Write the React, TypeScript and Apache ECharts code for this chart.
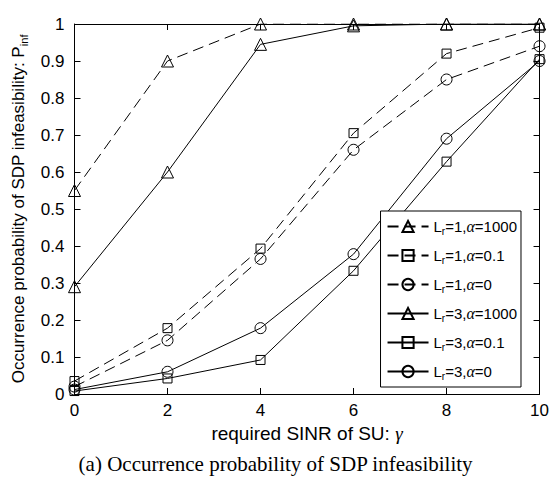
import React, { useEffect, useRef } from "react";
import * as echarts from "echarts";

const xValues = [0, 2, 4, 6, 8, 10];
const seriesNames = [
  "L_r=1,α=1000",
  "L_r=1,α=0.1",
  "L_r=1,α=0",
  "L_r=3,α=1000",
  "L_r=3,α=0.1",
  "L_r=3,α=0",
];
const lr1a1000 = [0.55, 0.9, 1.0, 1.0, 1.0, 1.0];
const lr1a01 = [0.035, 0.178, 0.393, 0.705, 0.92, 0.99];
const lr1a0 = [0.02, 0.145, 0.365, 0.66, 0.85, 0.94];
const lr3a1000 = [0.29, 0.6, 0.945, 0.995, 1.0, 1.0];
const lr3a01 = [0.008, 0.042, 0.092, 0.333, 0.628, 0.905];
const lr3a0 = [0.012, 0.06, 0.178, 0.378, 0.69, 0.9];
const seriesValues = [lr1a1000, lr1a01, lr1a0, lr3a1000, lr3a01, lr3a0];
const seriesSymbols = ["triangle", "rect", "circle", "triangle", "rect", "circle"];
const seriesDashed = [true, true, true, false, false, false];

const FONT = "Liberation Sans";
const SERIF = "Liberation Serif";

export default function App() {
  const ref = useRef<HTMLDivElement>(null);
  useEffect(() => {
    if (!ref.current) return;
    const chart = echarts.init(ref.current, undefined, { renderer: "svg" });
    const series = seriesNames.map((name, i) => ({
      name,
      type: "line",
      data: xValues.map((x, j) => [x, seriesValues[i][j]]),
      symbol: seriesSymbols[i],
      symbolSize: seriesSymbols[i] === "rect" ? 9 : seriesSymbols[i] === "triangle" ? 12 : 11,
      showSymbol: true,
      itemStyle: { color: "transparent", borderColor: "#000", borderWidth: 1 },
      lineStyle: { color: "#000", width: 1, type: seriesDashed[i] ? [11, 6] : "solid" },
      emphasis: { disabled: true },
      z: 3,
    }));
    const tickStyle = { inside: true, length: 6, lineStyle: { color: "#000", width: 1 } };
    chart.setOption({
      animation: false,
      backgroundColor: "#fff",
      grid: { left: 73, right: 9, top: 24, bottom: 86, show: false },
      legend: {
        orient: "vertical",
        right: 31,
        bottom: 93,
        backgroundColor: "#fff",
        borderColor: "#000",
        borderWidth: 1,
        borderRadius: 0,
        padding: [6, 4, 6, 6],
        itemWidth: 41,
        itemHeight: 14,
        itemGap: 10,
        data: seriesNames,
        formatter: (name: string) => {
          const rest = name.slice(3);
          const parts = rest.split("α");
          return "{n|L}{s|r}{n|" + parts[0] + "}{a|α}{n|" + parts[1] + "}";
        },
        textStyle: {
          color: "#000",
          fontFamily: FONT,
          fontSize: 15,
          rich: {
            n: { fontSize: 15, fontFamily: FONT, color: "#000", lineHeight: 18 },
            a: { fontSize: 16, fontFamily: SERIF, fontStyle: "italic", color: "#000", lineHeight: 18 },
            s: { fontSize: 10, fontFamily: FONT, color: "#000", lineHeight: 18, padding: [9, 0, 0, 0] },
          },
        },
      },
      xAxis: [
        {
          type: "value",
          min: 0,
          max: 10,
          interval: 2,
          name: "{n|required SINR of SU: }{g|γ}",
          nameLocation: "middle",
          nameGap: 28,
          nameTextStyle: {
            fontFamily: FONT,
            fontSize: 19,
            color: "#000",
            rich: {
              n: { fontFamily: FONT, fontSize: 19, color: "#000" },
              g: { fontFamily: SERIF, fontSize: 19, fontStyle: "italic", color: "#000" },
            },
          },
          axisLine: { show: true, lineStyle: { color: "#000", width: 1 } },
          axisTick: tickStyle,
          axisLabel: { fontFamily: FONT, fontSize: 17, color: "#000", margin: 8 },
          splitLine: { show: false },
        },
        {
          type: "value",
          position: "top",
          min: 0,
          max: 10,
          interval: 2,
          axisLine: { show: true, onZero: false, lineStyle: { color: "#000", width: 1 } },
          axisTick: tickStyle,
          axisLabel: { show: false },
          splitLine: { show: false },
        },
      ],
      yAxis: [
        {
          type: "value",
          min: 0,
          max: 1,
          interval: 0.1,
          name: "{n|Occurrence probability of SDP infeasibility: P}{s|inf}",
          nameLocation: "middle",
          nameGap: 46,
          nameTextStyle: {
            fontFamily: FONT,
            fontSize: 17,
            color: "#000",
            rich: {
              n: { fontSize: 17, fontFamily: FONT, color: "#000", lineHeight: 20 },
              s: { fontSize: 11, fontFamily: FONT, color: "#000", lineHeight: 20, padding: [10, 0, 0, 0] },
            },
          },
          axisLine: { show: true, lineStyle: { color: "#000", width: 1 } },
          axisTick: tickStyle,
          axisLabel: {
            fontFamily: FONT,
            fontSize: 17,
            color: "#000",
            margin: 10,
            formatter: (v: number) => String(Math.round(v * 10) / 10),
          },
          splitLine: { show: false },
        },
        {
          type: "value",
          position: "right",
          min: 0,
          max: 1,
          interval: 0.1,
          axisLine: { show: true, onZero: false, lineStyle: { color: "#000", width: 1 } },
          axisTick: tickStyle,
          axisLabel: { show: false },
          splitLine: { show: false },
        },
      ],
      series,
      graphic: [
        {
          type: "text",
          left: "center",
          top: 453,
          style: {
            text: "(a) Occurrence probability of SDP infeasibility",
            fontFamily: SERIF,
            fontSize: 21,
            fill: "#000",
          },
        },
      ],
    });
    return () => chart.dispose();
  }, []);
  return (
    <div
      ref={ref}
      style={{ position: "fixed", left: 0, top: 0, width: 552, height: 480 }}
    />
  );
}
